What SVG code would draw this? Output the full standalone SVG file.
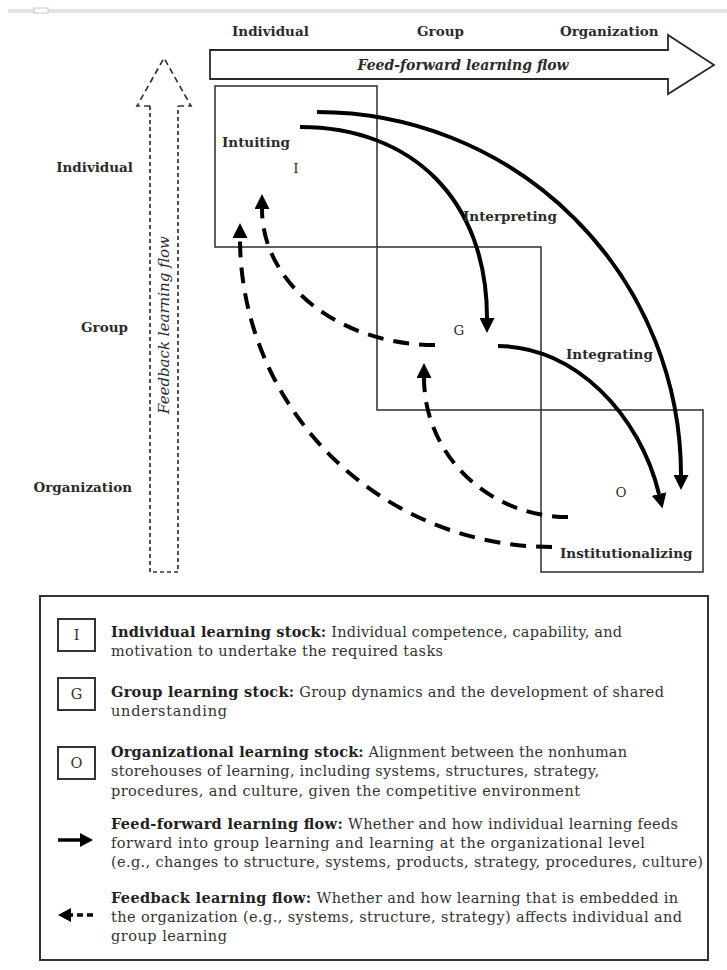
<svg xmlns="http://www.w3.org/2000/svg" width="727" height="970" viewBox="0 0 727 970">
<defs>
<style>
.lbl{font-family:"DejaVu Serif","Liberation Serif",serif;font-weight:bold;font-size:13.5px;fill:#2b2b2b}
.stk{font-family:"DejaVu Serif","Liberation Serif",serif;font-size:13.5px;fill:#2b2b2b}
.leg{font-family:"DejaVu Serif","Liberation Serif",serif;font-size:14.5px;fill:#333}
.leg .b{font-weight:bold;fill:#222}
.box{fill:none;stroke:#3a3a3a;stroke-width:1.6}
.solid{fill:none;stroke:#000;stroke-width:4}
.dash{fill:none;stroke:#000;stroke-width:4;stroke-dasharray:16 10}
</style>
<marker id="ah" markerUnits="userSpaceOnUse" markerWidth="15" markerHeight="15" refX="0" refY="7" orient="auto" viewBox="0 0 14 14">
<path d="M0,0 L14,7 L0,14 z" fill="#000"/>
</marker>
</defs>
<rect width="727" height="970" fill="#fff"/>
<rect x="8" y="9" width="719" height="4" fill="#e2e2e2"/>
<rect x="34" y="8" width="14" height="5" fill="#fff" stroke="#c8c8c8" stroke-width="1"/>

<g id="columnLabels">
<text class="lbl" x="232" y="36">Individual</text>
<text class="lbl" x="417" y="36">Group</text>
<text class="lbl" x="560" y="36">Organization</text>
</g>
<g id="rowLabels">
<text class="lbl" x="133" y="172" text-anchor="end">Individual</text>
<text class="lbl" x="128" y="332" text-anchor="end">Group</text>
<text class="lbl" x="132" y="492" text-anchor="end">Organization</text>
</g>

<g id="feedForwardArrow">
<path d="M210,50 L668,50 L668,35 L714,65 L668,94 L668,79 L210,79 Z" fill="#fff" stroke="#2a2a2a" stroke-width="1.8" stroke-linejoin="miter"/>
<text x="463" y="70" text-anchor="middle" font-family="DejaVu Serif, Liberation Serif, serif" font-size="14" font-weight="bold" font-style="italic" fill="#2b2b2b">Feed-forward learning flow</text>
</g>

<g id="feedbackArrow">
<path d="M150,106 L137,106 L164,58 L191,106 L178,106" fill="none" stroke="#333" stroke-width="1.7" stroke-dasharray="6 4"/>
<path d="M150,106 L150,572 L178,572 L178,106" fill="none" stroke="#333" stroke-width="1.7" stroke-dasharray="4 3"/>
<text transform="translate(169,325) rotate(-90)" text-anchor="middle" font-family="DejaVu Serif, Liberation Serif, serif" font-size="15" font-style="italic" fill="#2b2b2b">Feedback learning flow</text>
</g>

<g id="boxI">
<rect class="box" x="215" y="86" width="162" height="161"/>
<text class="lbl" x="222" y="147">Intuiting</text>
<text class="stk" x="296" y="173" text-anchor="middle">I</text>
</g>
<g id="boxG">
<rect class="box" x="377" y="247" width="164" height="163"/>
<text class="stk" x="459" y="335" text-anchor="middle">G</text>
</g>
<g id="boxO">
<rect class="box" x="541" y="410" width="162" height="162"/>
<text class="stk" x="621" y="497" text-anchor="middle">O</text>
<text class="lbl" x="560" y="558">Institutionalizing</text>
</g>

<g id="connectors">
<path class="solid" d="M317,112 A 364 363 0 0 1 681,475" marker-end="url(#ah)"/>
<path class="solid" d="M300,127 C 412,127 487,200 487,318" marker-end="url(#ah)"/>
<path class="solid" d="M498,346 C 575,346 640,415 659,494" marker-end="url(#ah)"/>
<path class="dash" d="M552,547 A 312 309 0 0 1 240,238" marker-end="url(#ah)"/>
<path class="dash" d="M435,345 A 173 136 0 0 1 262,209" marker-end="url(#ah)"/>
<path class="dash" d="M568,517 A 144 139 0 0 1 424,378" marker-end="url(#ah)"/>
<text class="lbl" x="463" y="221">Interpreting</text>
<text class="lbl" x="566" y="359">Integrating</text>
</g>

<g id="legend">
<rect x="40" y="596" width="668" height="364" fill="none" stroke="#333" stroke-width="2"/>
<rect x="58" y="619" width="37" height="32" fill="none" stroke="#333" stroke-width="2"/>
<text class="leg" x="76.5" y="640" text-anchor="middle">I</text>
<rect x="58" y="678" width="37" height="32" fill="none" stroke="#333" stroke-width="2"/>
<text class="leg" x="76.5" y="699" text-anchor="middle">G</text>
<rect x="58" y="747" width="37" height="32" fill="none" stroke="#333" stroke-width="2"/>
<text class="leg" x="76.5" y="768" text-anchor="middle">O</text>
<path d="M58,840 L82,840" stroke="#000" stroke-width="3.5"/>
<path d="M80,833 L93,840 L80,847 z" fill="#000"/>
<path d="M58,915 L71,908 L71,922 z" fill="#000"/>
<path d="M70,915 L73,915 M77,915 L83,915 M87,915 L93,915" stroke="#000" stroke-width="3.5"/>

<text class="leg" x="111" y="637" textLength="511" lengthAdjust="spacing"><tspan class="b">Individual learning stock:</tspan> Individual competence, capability, and</text>
<text class="leg" x="111" y="656" textLength="332" lengthAdjust="spacing">motivation to undertake the required tasks</text>
<text class="leg" x="111" y="697" textLength="553" lengthAdjust="spacing"><tspan class="b">Group learning stock:</tspan> Group dynamics and the development of shared</text>
<text class="leg" x="111" y="716" textLength="116" lengthAdjust="spacing">understanding</text>
<text class="leg" x="111" y="757" textLength="516" lengthAdjust="spacing"><tspan class="b">Organizational learning stock:</tspan> Alignment between the nonhuman</text>
<text class="leg" x="111" y="776" textLength="488" lengthAdjust="spacing">storehouses of learning, including systems, structures, strategy,</text>
<text class="leg" x="111" y="796" textLength="469" lengthAdjust="spacing">procedures, and culture, given the competitive environment</text>
<text class="leg" x="111" y="829" textLength="567" lengthAdjust="spacing"><tspan class="b">Feed-forward learning flow:</tspan> Whether and how individual learning feeds</text>
<text class="leg" x="111" y="848" textLength="534" lengthAdjust="spacing">forward into group learning and learning at the organizational level</text>
<text class="leg" x="111" y="867" textLength="592" lengthAdjust="spacing">(e.g., changes to structure, systems, products, strategy, procedures, culture)</text>
<text class="leg" x="111" y="903" textLength="567" lengthAdjust="spacing"><tspan class="b">Feedback learning flow:</tspan> Whether and how learning that is embedded in</text>
<text class="leg" x="111" y="922" textLength="571" lengthAdjust="spacing">the organization (e.g., systems, structure, strategy) affects individual and</text>
<text class="leg" x="111" y="941" textLength="116" lengthAdjust="spacing">group learning</text>
</g>
</svg>
